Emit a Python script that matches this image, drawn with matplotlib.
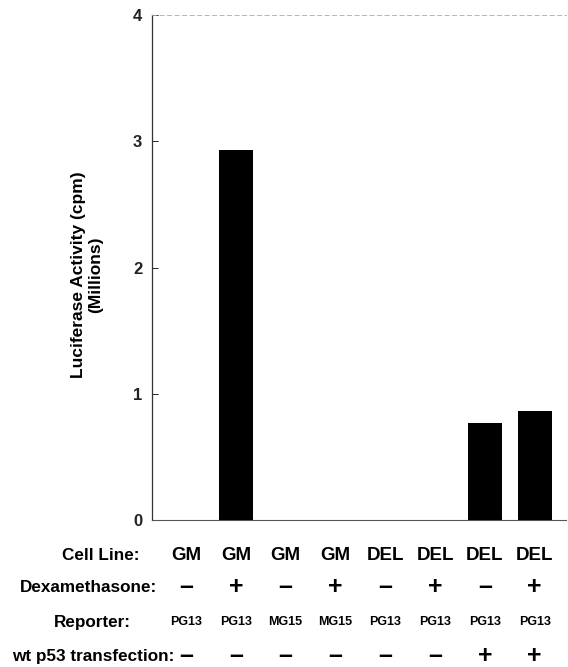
import matplotlib
matplotlib.use("Agg")
import matplotlib.pyplot as plt
import matplotlib.transforms as mtransforms

# data (millions of cpm)
cell_line = ["GM", "GM", "GM", "GM", "DEL", "DEL", "DEL", "DEL"]
dexamethasone = ["–", "+", "–", "+", "–", "+", "–", "+"]
reporter = ["PG13", "PG13", "MG15", "MG15", "PG13", "PG13", "PG13", "PG13"]
wt_p53 = ["–", "–", "–", "–", "–", "–", "+", "+"]
activity = [0.0, 2.93, 0.0, 0.0, 0.0, 0.0, 0.77, 0.86]
yticks = [0, 1, 2, 3, 4]

plt.rcParams["font.family"] = ["Liberation Sans", "DejaVu Sans"]

W, H = 568, 667
fig = plt.figure(figsize=(W / 100, H / 100), dpi=100)
ax = fig.add_axes([152 / W, 1 - 520 / H, (566 - 152) / W, (520 - 15) / H])

x = list(range(len(activity)))
ax.bar(x, activity, width=0.68, color="black", zorder=3)
ax.set_xlim(-0.683, 7.63)
ax.set_ylim(0, 4)

ax.set_yticks(yticks)
ax.set_yticklabels([str(t) for t in yticks], fontsize=12, fontweight="bold")
ax.tick_params(axis="y", direction="in", length=4, width=0.7, pad=7, colors="#222222")
ax.set_xticks([])

ax.spines["right"].set_visible(False)
ax.spines["left"].set_linewidth(0.9)
ax.spines["left"].set_color("#333333")
ax.spines["bottom"].set_linewidth(0.8)
ax.spines["bottom"].set_color("#555555")
ax.spines["top"].set_linewidth(0.6)
ax.spines["top"].set_color("#aaaaaa")
ax.spines["top"].set_linestyle((0, (5, 4)))

ax.set_ylabel("Luciferase Activity (cpm)\n(Millions)", fontsize=12.5,
              fontweight="bold", linespacing=1.15)
ax.yaxis.set_label_coords(-0.118, 0.485)

# rows of condition labels under the bars
tr = mtransforms.blended_transform_factory(ax.transData, fig.transFigure)
rows = [
    ("Cell Line:", 139, 555, cell_line, 13.5),
    ("Dexamethasone:", 157, 587, dexamethasone, 18),
    ("Reporter:", 131, 622, reporter, 9),
    ("wt p53 transfection:", 174, 656, wt_p53, 18),
]
for label, lx, ly, vals, vsize in rows:
    yf = 1 - ly / H
    fig.text(lx / W, yf, label, ha="right", va="center", fontsize=12.3,
             fontweight="bold")
    for xi, v in zip(x, vals):
        fig.text(xi, yf, v, transform=tr, ha="center", va="center",
                 fontsize=vsize, fontweight="bold")

fig.savefig("out.png", dpi=100)
